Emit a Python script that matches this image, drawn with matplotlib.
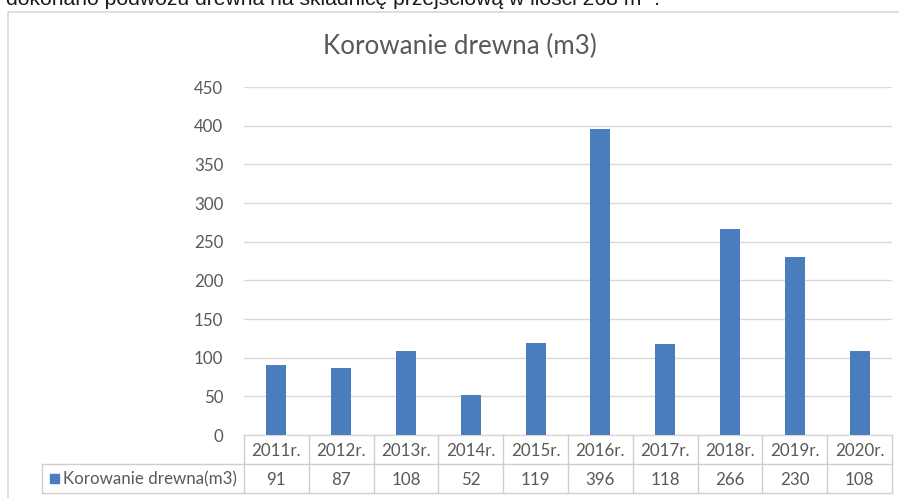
import matplotlib
matplotlib.use("Agg")
import matplotlib.pyplot as plt
from matplotlib.patches import Rectangle
from matplotlib.lines import Line2D
import matplotlib.transforms as mtransforms

years = ["2011r.", "2012r.", "2013r.", "2014r.", "2015r.", "2016r.", "2017r.", "2018r.", "2019r.", "2020r."]
values = [91, 87, 108, 52, 119, 396, 118, 266, 230, 108]
series_name = "Korowanie drewna(m3)"
title = "Korowanie drewna (m3)"
yticks = [0, 50, 100, 150, 200, 250, 300, 350, 400, 450]
top_text = "dokonano podwozu drewna na składnicę przejściową w ilości 268 m³ ."

W, H = 899, 498
fig = plt.figure(figsize=(W / 100, H / 100), dpi=100)
fig.patch.set_facecolor("white")

FONT = ["Lato", "DejaVu Sans"]
GRAY = "#595959"
GRID = "#d9d9d9"
BAR = "#4a7dbd"
FS = 12.2

def fx(px):
    return px / W

def fy(py):
    return 1 - py / H

# text of the document above the chart (cropped by the picture edge, as in the source)
fig.text(fx(6), fy(5), top_text, fontsize=15.2, family=["Liberation Sans", "DejaVu Sans"],
         color="#1a1a1a", ha="left", va="baseline")

# chart frame
fig.patches.append(Rectangle((fx(8), fy(500)), fx(910) - fx(8), fy(12) - fy(500),
                             transform=fig.transFigure, fill=False, edgecolor=GRID, lw=1.2))

left, right, top, bottom = 244, 892, 87, 435
ax = fig.add_axes([fx(left), fy(bottom), fx(right) - fx(left), fy(top) - fy(bottom)])
x = list(range(len(years)))
ax.bar(x, values, width=0.31, color=BAR, zorder=3)
ax.set_xlim(-0.5, len(years) - 0.5)
ax.set_ylim(0, 450)
ax.set_yticks(yticks)
ax.set_yticklabels([str(v) for v in yticks], fontsize=FS, color=GRAY, family=FONT)
ax.tick_params(axis="y", length=0, pad=15)
ax.tick_params(axis="x", length=0, labelbottom=False)
ax.set_xticks([])
ax.grid(axis="y", color=GRID, lw=1.0, zorder=0)
for s in ["top", "right", "left"]:
    ax.spines[s].set_visible(False)
ax.spines["bottom"].set_color(GRID)
ax.spines["bottom"].set_linewidth(1.0)

fig.text(fx(460), fy(46), title, fontsize=18.7, color=GRAY, family=FONT, ha="center", va="center")

# data table under the axis
row1_top, row_mid, row_bot = 435, 464, 493
leg_left = 42
trans = mtransforms.blended_transform_factory(ax.transData, fig.transFigure)
lc = "#cfcfcf"
def fline(x0, y0, x1, y1):
    fig.add_artist(Line2D([fx(x0), fx(x1)], [fy(y0), fy(y1)], transform=fig.transFigure,
                          color=lc, lw=1.0))

fline(left, row_mid, right, row_mid)
fline(leg_left, row_mid, left, row_mid)
fline(leg_left, row_bot, right, row_bot)
fline(leg_left, row_mid, leg_left, row_bot)
colw = (right - left) / len(years)
for i in range(len(years) + 1):
    xx = left + i * colw
    fline(xx, row1_top, xx, row_bot)

for i, (yr, v) in enumerate(zip(years, values)):
    fig.text(i, fy((row1_top + row_mid) / 2 + 1), yr, transform=trans, ha="center", va="center",
             fontsize=FS, color=GRAY, family=FONT)
    fig.text(i, fy((row_mid + row_bot) / 2 + 1), str(v), transform=trans, ha="center", va="center",
             fontsize=FS, color=GRAY, family=FONT)

# legend key in table
fig.patches.append(Rectangle((fx(50), fy(483)), fx(9), fy(474) - fy(483),
                             transform=fig.transFigure, color=BAR))
fig.text(fx(63), fy((row_mid + row_bot) / 2 + 1), series_name, ha="left", va="center",
         fontsize=FS, color=GRAY, family=FONT)

fig.savefig("out.png", dpi=100)
